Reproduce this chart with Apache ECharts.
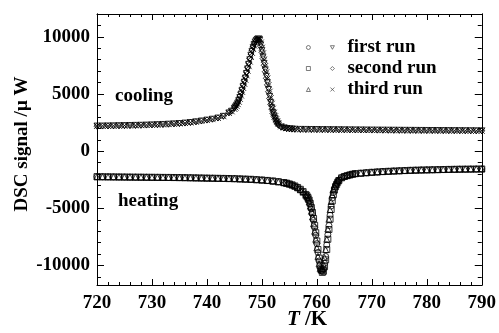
<!DOCTYPE html>
<html>
<head>
<meta charset="utf-8">
<title>DSC signal</title>
<script src="https://cdn.jsdelivr.net/npm/echarts@6/dist/echarts.min.js"></script>
<style>
  html, body { margin: 0; padding: 0; background: #fff; }
  #chart { width: 499px; height: 333px; }
</style>
</head>
<body>
<div id="chart"></div>
<script>
// temperatures (K) for the cooling curve
const coolT = [720, 721, 722, 723, 724, 725, 726, 727, 728, 729, 730, 731, 732, 733, 734, 735, 736, 737, 738, 739, 740, 741, 742, 743, 744, 744.5,
  745.0, 745.2, 745.4, 745.6, 745.8, 746.0, 746.2, 746.4, 746.6, 746.8, 747.0, 747.2, 747.4, 747.6, 747.8, 748.0, 748.2, 748.4, 748.6, 748.8,
  749.0, 749.2, 749.4, 749.6, 749.8, 750.0, 750.2, 750.4, 750.6, 750.8, 751.0, 751.2, 751.4, 751.6, 751.8, 752.0, 752.2, 752.4, 752.6, 752.8, 753.0,
  753.5, 754, 754.5, 755, 755.5, 756,
  757, 758, 759, 760, 761, 762, 763, 764, 765, 766, 767, 768, 769, 770, 771, 772, 773, 774, 775, 776, 777, 778, 779, 780, 781, 782, 783, 784, 785, 786, 787, 788, 789, 790]

// cooling signal (μW), one list per run
const coolRun1 = [2200, 2205, 2210, 2220, 2230, 2240, 2250, 2260, 2270, 2285, 2300, 2320, 2340, 2365, 2390, 2420, 2460, 2510, 2570, 2640, 2720, 2800, 2900, 3050, 3350, 3500,
  3750, 3880, 4030, 4200, 4430, 4700, 5000, 5330, 5680, 6040, 6400, 6800, 7200, 7600, 8000, 8400, 8740, 9060, 9340, 9560,
  9700, 9790, 9820, 9700, 9300, 8800, 8250, 7680, 7120, 6560, 6000, 5400, 4800, 4250, 3800, 3400, 3100, 2850, 2620, 2450, 2300,
  2120, 2040, 1990, 1960, 1940, 1925,
  1910, 1905, 1900, 1895, 1890, 1885, 1880, 1876, 1872, 1868, 1864, 1860, 1856, 1852, 1848, 1844, 1840, 1836, 1832, 1828, 1824, 1820, 1817, 1814, 1811, 1808, 1805, 1802, 1799, 1796, 1793, 1790, 1787, 1784]
const coolRun2 = [2190, 2200, 2210, 2215, 2225, 2235, 2250, 2260, 2275, 2290, 2305, 2320, 2345, 2370, 2395, 2430, 2470, 2520, 2580, 2650, 2730, 2810, 2910, 3080, 3370, 3530,
  3800, 3940, 4100, 4290, 4530, 4810, 5120, 5460, 5810, 6170, 6540, 6940, 7340, 7740, 8130, 8500, 8830, 9130, 9390, 9580,
  9700, 9760, 9720, 9550, 9150, 8650, 8100, 7520, 6950, 6380, 5800, 5200, 4620, 4100, 3680, 3300, 3020, 2780, 2570, 2410, 2280,
  2110, 2030, 1985, 1955, 1935, 1920,
  1908, 1903, 1898, 1893, 1888, 1883, 1878, 1874, 1870, 1866, 1862, 1858, 1854, 1850, 1846, 1842, 1838, 1834, 1830, 1826, 1822, 1818, 1815, 1812, 1809, 1806, 1803, 1800, 1797, 1794, 1791, 1788, 1785, 1782]
const coolRun3 = [2210, 2215, 2220, 2225, 2235, 2245, 2255, 2265, 2280, 2295, 2310, 2325, 2350, 2370, 2400, 2430, 2465, 2515, 2575, 2645, 2725, 2805, 2905, 3060, 3340, 3490,
  3700, 3820, 3960, 4120, 4330, 4580, 4870, 5190, 5530, 5890, 6250, 6640, 7040, 7440, 7840, 8240, 8600, 8940, 9240, 9490,
  9660, 9780, 9850, 9800, 9500, 9050, 8550, 8000, 7450, 6900, 6350, 5780, 5200, 4640, 4150, 3720, 3360, 3050, 2800, 2590, 2420,
  2180, 2070, 2010, 1970, 1945, 1930,
  1912, 1907, 1902, 1897, 1892, 1887, 1882, 1878, 1874, 1870, 1866, 1862, 1858, 1854, 1850, 1846, 1842, 1838, 1834, 1830, 1826, 1822, 1819, 1816, 1813, 1810, 1807, 1804, 1801, 1798, 1795, 1792, 1789, 1786]

// temperatures (K) for the heating curve
const heatT = [720, 721, 722, 723, 724, 725, 726, 727, 728, 729, 730, 731, 732, 733, 734, 735, 736, 737, 738, 739, 740, 741, 742, 743, 744, 745, 746, 747, 748, 749, 750, 751, 752, 753, 754,
  754.5, 755, 755.5, 756, 756.5, 757, 757.5,
  758.0, 758.2, 758.4, 758.6, 758.8, 759.0, 759.2, 759.4, 759.6, 759.8, 760.0, 760.2, 760.4, 760.6, 760.8,
  761.0, 761.2, 761.4, 761.6, 761.8, 762.0, 762.2, 762.4, 762.6, 762.8, 763.0, 763.2, 763.4, 763.6, 763.8, 764.0,
  764.5, 765, 765.5, 766, 766.5, 767,
  768, 769, 770, 771, 772, 773, 774, 775, 776, 777, 778, 779, 780, 781, 782, 783, 784, 785, 786, 787, 788, 789, 790]

// heating signal (μW), one list per run
const heatRun1 = [-2230, -2235, -2240, -2245, -2250, -2255, -2260, -2265, -2270, -2275, -2280, -2285, -2290, -2295, -2300, -2305, -2310, -2320, -2330, -2340, -2350, -2360, -2370, -2380, -2390, -2400, -2420, -2440, -2460, -2490, -2520, -2560, -2610, -2670, -2750,
  -2800, -2870, -2950, -3050, -3180, -3350, -3550,
  -3800, -3930, -4100, -4330, -4650, -5050, -5500, -6050, -6680, -7350, -8080, -8850, -9600, -10200, -10450,
  -10500, -10300, -9800, -9200, -8200, -7300, -6500, -5600, -4800, -4100, -3600, -3250, -3000, -2820, -2650, -2520,
  -2300, -2200, -2130, -2060, -2000, -1960,
  -1920, -1880, -1840, -1810, -1780, -1755, -1730, -1710, -1690, -1670, -1655, -1640, -1630, -1620, -1610, -1600, -1590, -1580, -1570, -1565, -1560, -1555, -1550]
const heatRun2 = [-2220, -2228, -2235, -2240, -2246, -2252, -2258, -2263, -2268, -2273, -2278, -2283, -2288, -2293, -2298, -2303, -2310, -2318, -2328, -2338, -2348, -2358, -2368, -2378, -2388, -2398, -2415, -2435, -2455, -2485, -2515, -2555, -2600, -2660, -2740,
  -2790, -2860, -2940, -3040, -3170, -3330, -3530,
  -3780, -3900, -4060, -4270, -4560, -4930, -5360, -5880, -6480, -7130, -7850, -8600, -9350, -10000, -10400,
  -10600, -10500, -10100, -9500, -8600, -7700, -6850, -5950, -5100, -4350, -3800, -3400, -3100, -2900, -2710, -2560,
  -2330, -2210, -2140, -2070, -2010, -1965,
  -1925, -1885, -1845, -1812, -1782, -1757, -1732, -1712, -1692, -1672, -1657, -1642, -1632, -1622, -1612, -1602, -1592, -1582, -1572, -1567, -1562, -1557, -1552]
const heatRun3 = [-2240, -2242, -2245, -2250, -2255, -2260, -2265, -2270, -2275, -2280, -2285, -2290, -2295, -2300, -2305, -2310, -2316, -2325, -2335, -2345, -2355, -2365, -2375, -2385, -2395, -2405, -2425, -2445, -2465, -2495, -2525, -2565, -2620, -2680, -2760,
  -2810, -2880, -2960, -3060, -3200, -3370, -3580,
  -3850, -3990, -4180, -4440, -4800, -5250, -5750, -6350, -7000, -7700, -8450, -9200, -9850, -10250, -10350,
  -10250, -9900, -9300, -8600, -7700, -6800, -5950, -5100, -4400, -3800, -3350, -3050, -2850, -2700, -2560, -2450,
  -2280, -2190, -2120, -2055, -1995, -1955,
  -1915, -1875, -1838, -1808, -1778, -1753, -1728, -1708, -1688, -1668, -1653, -1638, -1628, -1618, -1608, -1598, -1588, -1578, -1568, -1563, -1558, -1553, -1548]

const runNames = ['first run', 'second run', 'third run']

// y axis ticks
const yLabelTicks = [-10000, -5000, 0, 5000, 10000]
const yMinorTicks = [-11000, -10000, -9000, -8000, -7000, -6000, -5000, -4000, -3000, -2000, -1000, 0,
  1000, 2000, 3000, 4000, 5000, 6000, 7000, 8000, 9000, 10000, 11000]

const serif = '"Liberation Serif", "DejaVu Serif", serif'

const pairs = (xs, ys) => xs.map((x, i) => [x, ys[i]])

const markerStyle = {
  color: 'rgba(0,0,0,0)',
  borderColor: '#000',
  borderWidth: 1
}

// heating markers: circle / square / triangle, cooling: down triangle / diamond / cross
const heatSymbols = ['circle', 'rect', 'triangle']
const coolSymbols = ['path://M0,0L10,0L5,9Z', 'diamond', 'path://M0,0L10,10M0,10L10,0']

const heatRuns = [heatRun1, heatRun2, heatRun3]
const coolRuns = [coolRun1, coolRun2, coolRun3]

const series = []
heatRuns.forEach((run, i) => {
  series.push({
    name: runNames[i] + ' (heating)',
    type: 'scatter',
    symbol: heatSymbols[i],
    symbolSize: 6,
    itemStyle: markerStyle,
    data: pairs(heatT, run)
  })
})
coolRuns.forEach((run, i) => {
  series.push({
    name: runNames[i],
    type: 'scatter',
    symbol: coolSymbols[i],
    symbolSize: 6,
    itemStyle: markerStyle,
    data: pairs(coolT, run)
  })
})

const yAxisBase = {
  type: 'value',
  min: -11700,
  max: 12000,
  splitLine: { show: false },
  axisLine: { show: true, onZero: false, lineStyle: { color: '#000', width: 1 } }
}

const xAxisBase = {
  type: 'value',
  min: 720,
  max: 790,
  interval: 10,
  splitLine: { show: false },
  axisLine: { show: true, onZero: false, lineStyle: { color: '#000', width: 1 } },
  axisTick: { show: true, inside: true, length: 6, lineStyle: { color: '#000' } },
  minorTick: { show: true, splitNumber: 5, length: 3, lineStyle: { color: '#000' } }
}

const legendIcon = { color: 'rgba(0,0,0,0)', borderColor: '#333', borderWidth: 0.8 }

const chart = echarts.init(document.getElementById('chart'))
chart.setOption({
  animation: false,
  backgroundColor: '#fff',
  grid: { left: 97, right: 17, top: 14, bottom: 48 },
  xAxis: [
    Object.assign({}, xAxisBase, {
      position: 'bottom',
      axisLabel: { color: '#000', fontFamily: serif, fontWeight: 'bold', fontSize: 19, margin: 9 }
    }),
    Object.assign({}, xAxisBase, {
      position: 'top',
      axisLabel: { show: false }
    })
  ],
  yAxis: [
    Object.assign({}, yAxisBase, {
      position: 'left',
      axisTick: { show: true, inside: true, length: 7, customValues: yLabelTicks, lineStyle: { color: '#000' } },
      axisLabel: {
        color: '#000', fontFamily: serif, fontWeight: 'bold', fontSize: 19, margin: 7,
        customValues: yLabelTicks,
        formatter: v => String(v)
      }
    }),
    Object.assign({}, yAxisBase, {
      position: 'left',
      axisTick: { show: true, inside: true, length: 4, customValues: yMinorTicks, lineStyle: { color: '#000' } },
      axisLabel: { show: false }
    }),
    Object.assign({}, yAxisBase, {
      position: 'right',
      axisTick: { show: true, inside: true, length: 7, customValues: yLabelTicks, lineStyle: { color: '#000' } },
      axisLabel: { show: false }
    }),
    Object.assign({}, yAxisBase, {
      position: 'right',
      axisTick: { show: true, inside: true, length: 4, customValues: yMinorTicks, lineStyle: { color: '#000' } },
      axisLabel: { show: false }
    })
  ],
  legend: [
    {
      // heating markers column, no text
      data: runNames.map(n => n + ' (heating)'),
      orient: 'vertical',
      left: 301,
      top: 33,
      itemWidth: 4,
      itemHeight: 4,
      itemGap: 2,
      selectedMode: false,
      itemStyle: legendIcon,
      formatter: () => ' ',
      textStyle: { fontFamily: serif, fontSize: 19, lineHeight: 19 }
    },
    {
      data: runNames,
      orient: 'vertical',
      left: 325,
      top: 33,
      itemWidth: 4,
      itemHeight: 4,
      itemGap: 2,
      selectedMode: false,
      itemStyle: legendIcon,
      textStyle: {
        color: '#000', fontFamily: serif, fontWeight: 'bold', fontSize: 19, lineHeight: 19,
        padding: [0, 0, 0, 8]
      }
    }
  ],
  graphic: [
    {
      type: 'text', left: 115, top: 87,
      style: { text: 'cooling', fill: '#000', font: 'bold 19px ' + serif }
    },
    {
      type: 'text', left: 118, top: 192,
      style: { text: 'heating', fill: '#000', font: 'bold 19px ' + serif }
    },
    {
      // y axis title
      type: 'text', x: 22, y: 144, rotation: Math.PI / 2,
      style: { text: 'DSC signal /μ W', fill: '#000', font: 'bold 19px ' + serif, align: 'center', verticalAlign: 'middle' }
    },
    {
      // x axis title
      type: 'text', x: 307, y: 320,
      style: {
        text: '{i|T} /K',
        align: 'center',
        verticalAlign: 'middle',
        rich: {
          i: { fontStyle: 'italic', fontWeight: 'bold', fontSize: 21, fontFamily: serif, fill: '#000' }
        },
        fill: '#000',
        font: 'bold 21px ' + serif
      }
    }
  ],
  series: series
})

window.addEventListener('resize', () => {
  chart.resize()
})
</script>
</body>
</html>
